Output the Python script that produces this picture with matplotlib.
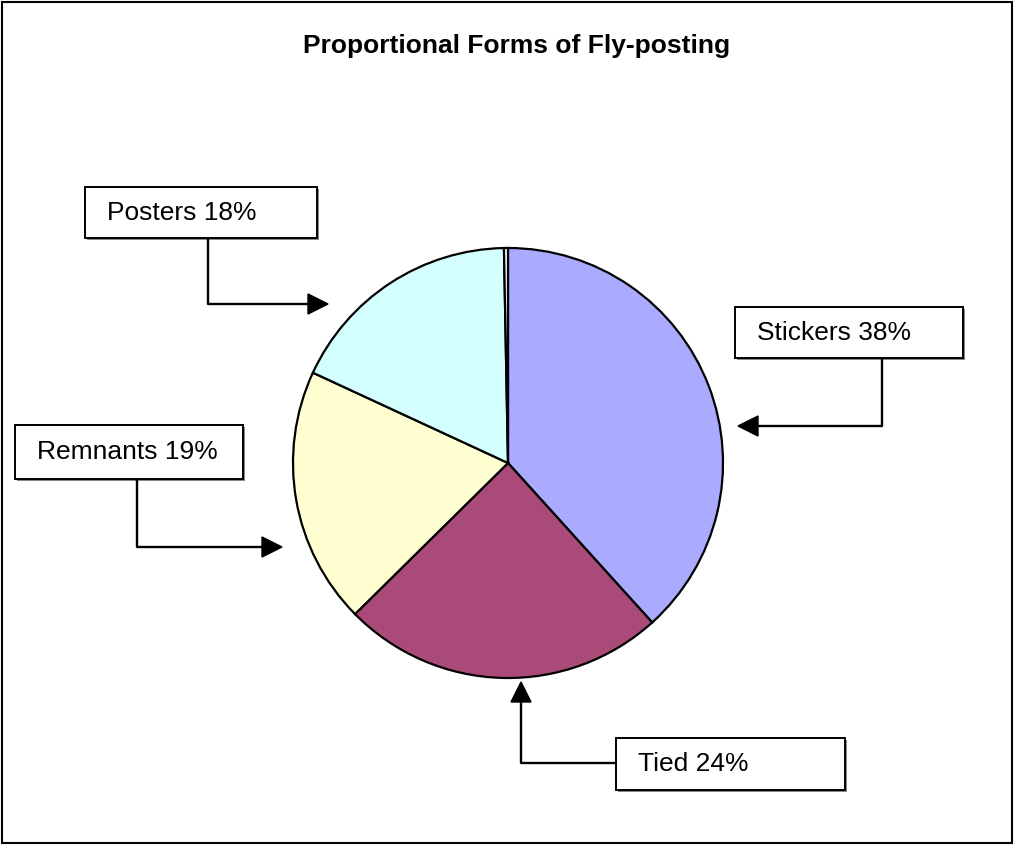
import matplotlib
matplotlib.use("Agg")
import matplotlib.pyplot as plt
from matplotlib.patches import Rectangle, Polygon

# slice data, clockwise from 12 o'clock
labels = ['Stickers', 'Tied', 'Remnants', 'Posters', '']
values = [38.3, 24.3, 19.3, 17.8, 0.3]
shown = ['38%', '24%', '19%', '18%', '']
colors = ['#AAAAFF', '#AA4A78', '#FFFFD2', '#D4FFFF', '#FFFFFF']

W, H = 1014, 846
fig = plt.figure(figsize=(W / 100, H / 100), dpi=100)
ax = fig.add_axes([0, 0, 1, 1])

def fy(y):                      # pixel row -> data y
    return H - y

ax.pie(values, colors=colors, startangle=90, counterclock=False,
       center=(508, fy(463)), radius=215, frame=True,
       wedgeprops=dict(edgecolor='black', linewidth=1.6))

ax.set_xlim(0, W)
ax.set_ylim(0, H)
ax.set_aspect('equal')
ax.axis('off')

# outer frame
ax.add_patch(Rectangle((2, fy(843)), 1010, 841, fill=False, edgecolor='black', lw=1.5))

ax.text(517, fy(46), 'Proportional Forms of Fly-posting', ha='center', va='center',
        fontsize=19, fontweight='bold', family='Liberation Sans')

# callout boxes: (x0, y0, x1, y1) in pixels, connector path
boxes = {
    'Posters':  (85, 187, 317, 238),
    'Stickers': (735, 307, 963, 358),
    'Remnants': (15, 425, 243, 479),
    'Tied':     (616, 738, 845, 790),
}
paths = {
    'Posters':  [(208, 238), (208, 304), (328, 304)],
    'Stickers': [(882, 358), (882, 426), (738, 426)],
    'Remnants': [(137, 479), (137, 547), (282, 547)],
    'Tied':     [(616, 763), (521, 763), (521, 682)],
}

for name, pct in zip(labels[:4], shown[:4]):
    x0, y0, x1, y1 = boxes[name]
    ax.add_patch(Rectangle((x0 + 2, fy(y1 + 2)), x1 - x0, y1 - y0,
                           facecolor='#888888', edgecolor='none', zorder=3))
    ax.add_patch(Rectangle((x0, fy(y1)), x1 - x0, y1 - y0,
                           facecolor='white', edgecolor='black', lw=1.4, zorder=4))
    ax.text(x0 + 22, fy((y0 + y1) / 2), name + ' ' + pct, ha='left', va='center',
            fontsize=19, family='Liberation Sans', zorder=5)

    pts = paths[name]
    (ax_, ay_), (bx, by) = pts[-2], pts[-1]
    n = max(abs(bx - ax_) + abs(by - ay_), 1)
    dx, dy = (bx - ax_) / n, (by - ay_) / n
    hl, hw = 20, 10
    base = (bx - dx * hl, by - dy * hl)
    line_pts = pts[:-1] + [base]
    ax.plot([p[0] for p in line_pts], [fy(p[1]) for p in line_pts],
            color='black', lw=1.7, zorder=3)
    px, py = -dy, dx
    tri = [(bx, fy(by)),
           (base[0] + px * hw, fy(base[1] + py * hw)),
           (base[0] - px * hw, fy(base[1] - py * hw))]
    ax.add_patch(Polygon(tri, closed=True, facecolor='black', edgecolor='black', zorder=3))

fig.savefig('out.png', dpi=100)
